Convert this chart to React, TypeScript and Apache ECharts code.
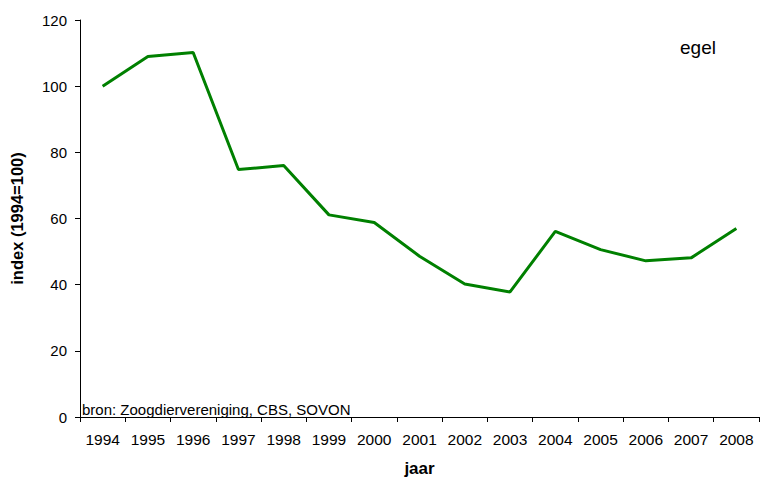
import React, { useEffect, useRef } from "react";
import * as echarts from "echarts";

const years = ["1994", "1995", "1996", "1997", "1998", "1999", "2000", "2001", "2002", "2003", "2004", "2005", "2006", "2007", "2008"];
const indexValues = [100, 109, 110.2, 74.8, 76, 61.1, 58.8, 48.6, 40.2, 37.8, 56.1, 50.6, 47.2, 48.1, 57];
const yTicks = { min: 0, max: 120, interval: 20 };
const seriesName = "egel";
const sourceText = "bron: Zoogdiervereniging, CBS, SOVON";

const FONT = "'Liberation Sans', Arial, sans-serif";

export default function App() {
  const ref = useRef<HTMLDivElement>(null);
  useEffect(() => {
    if (!ref.current) return;
    const chart = echarts.init(ref.current, null, { renderer: "svg" });
    chart.setOption({
      animation: false,
      backgroundColor: "#ffffff",
      grid: { left: 77, right: 1, top: 20, bottom: 61, containLabel: false },
      xAxis: {
        type: "category",
        data: years,
        boundaryGap: true,
        name: "jaar",
        nameLocation: "middle",
        nameGap: 43,
        nameTextStyle: { fontFamily: FONT, fontSize: 17, fontWeight: "bold", color: "#000" },
        axisLine: { show: true, lineStyle: { color: "#000", width: 1 } },
        axisTick: { show: true, length: 5, alignWithLabel: false, lineStyle: { color: "#000" } },
        axisLabel: { fontFamily: FONT, fontSize: 15.5, color: "#000", margin: 14, interval: 0 },
        splitLine: { show: false },
      },
      yAxis: {
        type: "value",
        min: yTicks.min,
        max: yTicks.max,
        interval: yTicks.interval,
        name: "index (1994=100)",
        nameLocation: "middle",
        nameGap: 55,
        nameTextStyle: { fontFamily: FONT, fontSize: 16.5, fontWeight: "bold", color: "#000" },
        axisLine: { show: true, lineStyle: { color: "#000", width: 1 } },
        axisTick: { show: true, length: 5, lineStyle: { color: "#000" } },
        axisLabel: { fontFamily: FONT, fontSize: 15, color: "#000", margin: 13 },
        splitLine: { show: false },
      },
      series: [
        {
          name: seriesName,
          type: "line",
          data: indexValues,
          symbol: "none",
          lineStyle: { color: "#008000", width: 3 },
          itemStyle: { color: "#008000" },
        },
      ],
      graphic: [
        {
          type: "text",
          left: 680,
          top: 38,
          style: { text: seriesName, font: `19px ${FONT}`, fill: "#000" },
        },
        {
          type: "text",
          left: 82,
          top: 402,
          style: { text: sourceText, font: `15px ${FONT}`, fill: "#000" },
        },
      ],
    });
    return () => chart.dispose();
  }, []);
  return <div ref={ref} style={{ position: "fixed", left: 0, top: 0, width: 760, height: 482 }} />;
}
